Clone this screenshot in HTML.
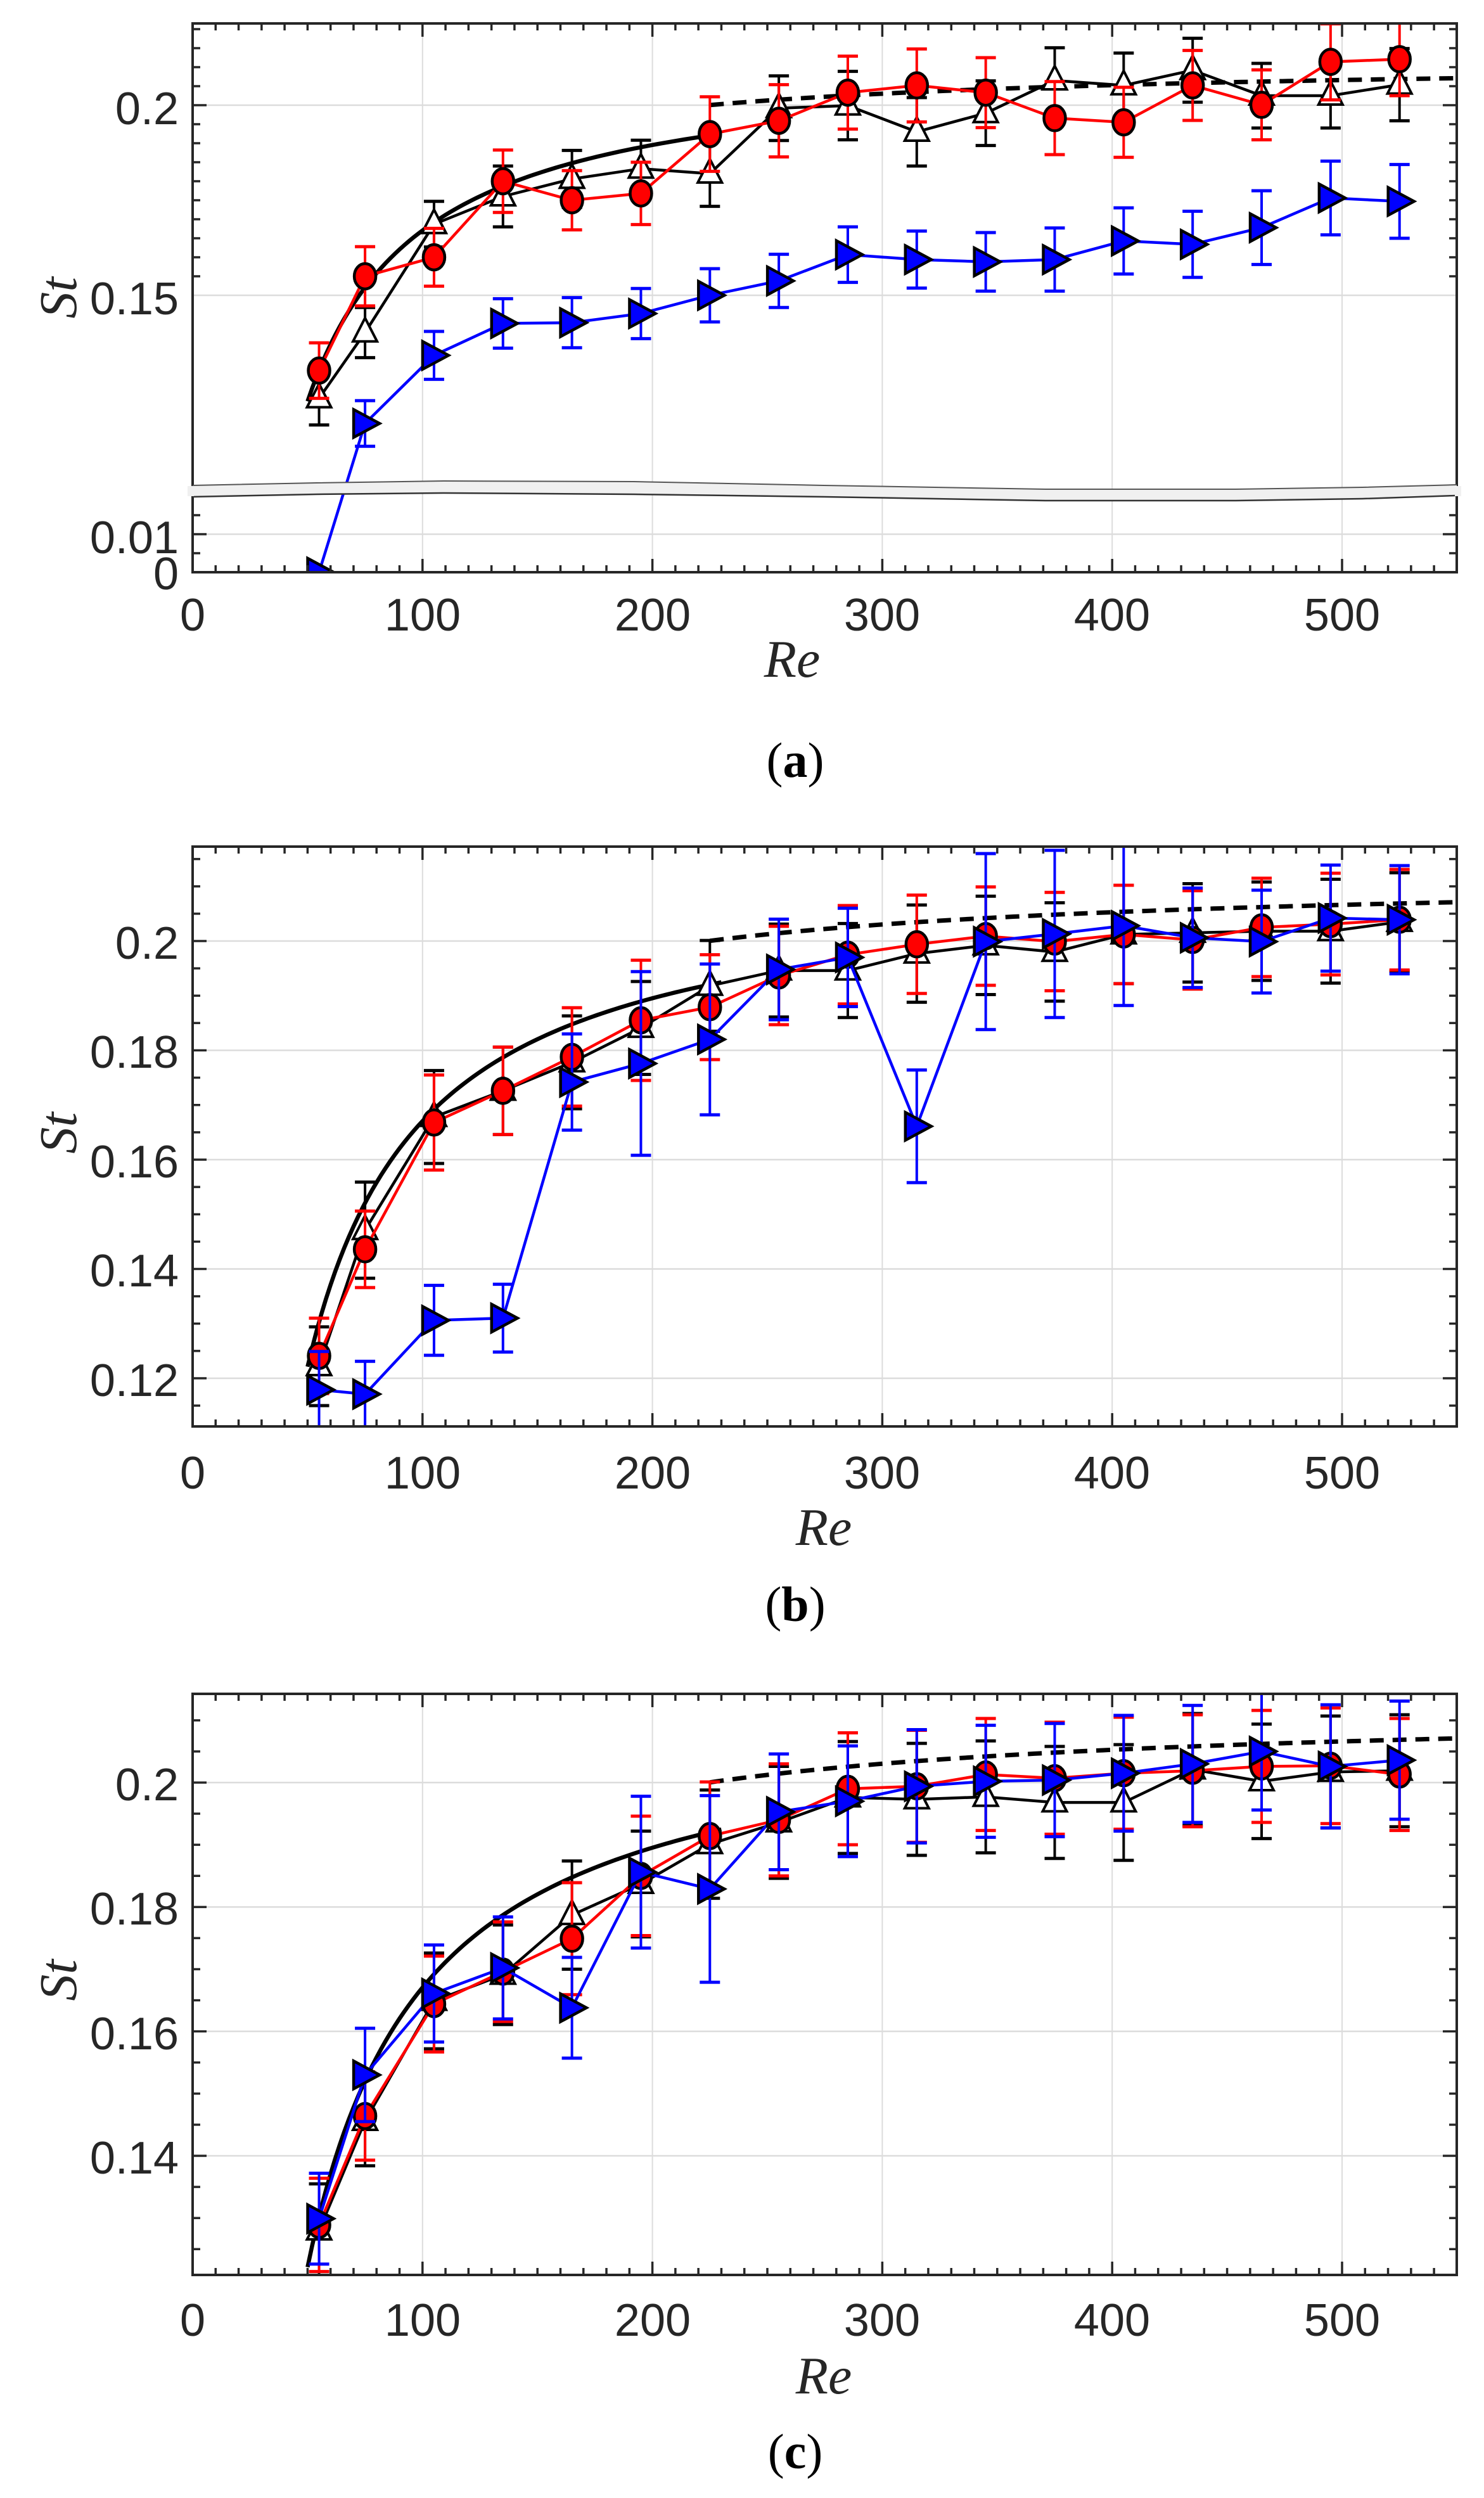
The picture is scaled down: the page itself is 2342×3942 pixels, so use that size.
<!DOCTYPE html>
<html><head><meta charset="utf-8">
<style>
html,body{margin:0;padding:0;background:#fff;}
svg{display:block;}
.tl{font-family:"Liberation Sans",sans-serif;font-size:72px;fill:#262626;}
.ax{font-family:"Liberation Serif",serif;font-style:italic;font-size:84px;fill:#262626;}
.cap{font-family:"Liberation Serif",serif;font-size:78px;fill:#000;}
</style></head>
<body>
<svg id="s" xmlns="http://www.w3.org/2000/svg" width="2342" height="3942" viewBox="0 0 2342 3942">
<defs>
<clipPath id="ca"><rect x="304" y="37" width="1995" height="866"/></clipPath>
<clipPath id="cb"><rect x="304" y="1336" width="1996" height="915"/></clipPath>
<clipPath id="cc"><rect x="304" y="2673" width="1996" height="917"/></clipPath>
</defs>
<g id="grid"></g>
<g id="data"></g>
<g id="frames"></g>
<!-- Panel a labels -->
<text class="tl" x="282" y="196" text-anchor="end">0.2</text>
<text class="tl" x="282" y="496" text-anchor="end">0.15</text>
<text class="tl" x="282" y="873" text-anchor="end">0.01</text>
<text class="tl" x="282" y="930" text-anchor="end">0</text>
<g class="tl" text-anchor="middle">
<text x="304" y="995">0</text><text x="667" y="995">100</text><text x="1030" y="995">200</text><text x="1392" y="995">300</text><text x="1755" y="995">400</text><text x="2118" y="995">500</text>
</g>
<text class="ax" x="1250" y="1068" text-anchor="middle">Re</text>
<text class="ax" x="0" y="0" text-anchor="middle" transform="translate(120,470) rotate(-90)">St</text>
<text class="cap" x="1255" y="1226" text-anchor="middle">(<tspan font-weight="bold">a</tspan>)</text>
<!-- Panel b labels -->
<text class="tl" x="282" y="1513" text-anchor="end">0.2</text>
<text class="tl" x="282" y="1685" text-anchor="end">0.18</text>
<text class="tl" x="282" y="1858" text-anchor="end">0.16</text>
<text class="tl" x="282" y="2030" text-anchor="end">0.14</text>
<text class="tl" x="282" y="2203" text-anchor="end">0.12</text>
<g class="tl" text-anchor="middle">
<text x="304" y="2349">0</text><text x="667" y="2349">100</text><text x="1030" y="2349">200</text><text x="1392" y="2349">300</text><text x="1755" y="2349">400</text><text x="2118" y="2349">500</text>
</g>
<text class="ax" x="1300" y="2438" text-anchor="middle">Re</text>
<text class="ax" x="0" y="0" text-anchor="middle" transform="translate(120,1788) rotate(-90)">St</text>
<text class="cap" x="1255" y="2558" text-anchor="middle">(<tspan font-weight="bold">b</tspan>)</text>
<!-- Panel c labels -->
<text class="tl" x="282" y="2841" text-anchor="end">0.2</text>
<text class="tl" x="282" y="3037" text-anchor="end">0.18</text>
<text class="tl" x="282" y="3234" text-anchor="end">0.16</text>
<text class="tl" x="282" y="3430" text-anchor="end">0.14</text>
<g class="tl" text-anchor="middle">
<text x="304" y="3686">0</text><text x="667" y="3686">100</text><text x="1030" y="3686">200</text><text x="1392" y="3686">300</text><text x="1755" y="3686">400</text><text x="2118" y="3686">500</text>
</g>
<text class="ax" x="1300" y="3777" text-anchor="middle">Re</text>
<text class="ax" x="0" y="0" text-anchor="middle" transform="translate(120,3125) rotate(-90)">St</text>
<text class="cap" x="1255" y="3895" text-anchor="middle">(<tspan font-weight="bold">c</tspan>)</text>
</svg>
<script>
(function(){
var NS="http://www.w3.org/2000/svg";
function el(parent,tag,attrs){var e=document.createElementNS(NS,tag);for(var k in attrs)e.setAttribute(k,attrs[k]);parent.appendChild(e);return e;}
var G=document.getElementById('grid'),D=document.getElementById('data'),F=document.getElementById('frames');
var X0=304,XS=3.628;
function px(r){return X0+r*XS;}
var RE=[55,75,105,135,165,195,225,255,285,315,345,375,405,435,465,495,525];
var L=304,R=2299;

function roshko(r){return 0.212*(1-21.2/r);}
function dashed(r){return 0.212*(1-12.7/r);}

function panel(o){
  var g=el(D,'g',{'clip-path':'url(#'+o.clip+')'});
  [100,200,300,400,500].forEach(function(r){el(G,'line',{x1:px(r),x2:px(r),y1:o.top,y2:o.bot,stroke:'#dcdcdc','stroke-width':2});});
  o.hgrid.forEach(function(y){el(G,'line',{x1:L,x2:R,y1:y,y2:y,stroke:'#dcdcdc','stroke-width':2.5});});
  var p=[];for(var r=50;r<=230;r+=2)p.push(px(r)+','+o.ym(roshko(r)));
  el(g,'polyline',{points:p.join(' '),fill:'none',stroke:'#000','stroke-width':6.5});
  p=[];for(var r=225;r<=552;r+=3)p.push(px(r)+','+o.ym(dashed(r)));
  el(g,'polyline',{points:p.join(' '),fill:'none',stroke:'#000','stroke-width':7,'stroke-dasharray':'22 14'});
  o.series.forEach(function(s){
    var pts=[];
    s.v.forEach(function(v,i){var x=px(RE[i]);var y=(s.ymap||o.ym)(v,i);pts.push(x+','+y);});
    el(g,'polyline',{points:pts.join(' '),fill:'none',stroke:s.c,'stroke-width':4.5});
    s.v.forEach(function(v,i){
      var e=s.e[i];if(!e)return;var x=px(RE[i]);var y1=o.ym(v+e),y2=o.ym(v-e);
      el(g,'line',{x1:x,x2:x,y1:y1,y2:y2,stroke:s.c,'stroke-width':4});
      el(g,'line',{x1:x-16,x2:x+16,y1:y1,y2:y1,stroke:s.c,'stroke-width':5});
      el(g,'line',{x1:x-16,x2:x+16,y1:y2,y2:y2,stroke:s.c,'stroke-width':5});
    });
    s.v.forEach(function(v,i){
      var x=px(RE[i]);var y=(s.ymap||o.ym)(v,i);
      if(s.m==='o')el(g,'ellipse',{cx:x,cy:y,rx:17,ry:20,fill:'#ff0000',stroke:'#000','stroke-width':4.5});
      else if(s.m==='^')el(g,'polygon',{points:(x)+','+(y-23)+' '+(x+19)+','+(y+14)+' '+(x-19)+','+(y+14),fill:'#fff',stroke:'#000','stroke-width':4});
      else el(g,'polygon',{points:(x-18)+','+(y-22)+' '+(x+23)+','+(y)+' '+(x-18)+','+(y+22),fill:'#0000ff',stroke:'#000','stroke-width':4.5});
    });
  });
  el(F,'rect',{x:L,y:o.top,width:R-L,height:o.bot-o.top,fill:'none',stroke:'#262626','stroke-width':4});
  for(var r=10;r<550;r+=10){var maj=(r%100===0);var len=maj?21:11;
    el(F,'line',{x1:px(r),x2:px(r),y1:o.bot,y2:o.bot-len,stroke:'#262626','stroke-width':3.5});
    el(F,'line',{x1:px(r),x2:px(r),y1:o.top,y2:o.top+len,stroke:'#262626','stroke-width':3.5});}
  o.yt.forEach(function(t){var len=t[1]?22:12;
    el(F,'line',{x1:L,x2:L+len,y1:t[0],y2:t[0],stroke:'#262626','stroke-width':3.5});
    el(F,'line',{x1:R,x2:R-len,y1:t[0],y2:t[0],stroke:'#262626','stroke-width':3.5});});
}

var yaU=function(v){return 166+(0.2-v)*6000;};
var ytA=[];for(var k=0;k<=13;k++){var v=0.22-k*0.005;var y=yaU(v);if(y>40&&y<765)ytA.push([y,Math.abs(v-0.2)<1e-6||Math.abs(v-0.15)<1e-6]);}
ytA.push([813,false],[843,true],[873,false]);
panel({clip:'ca',top:37,bot:903,ym:yaU,hgrid:[166,466,843],yt:ytA,series:[
 {c:'#000',m:'^',v:[0.1229,0.1402,0.1687,0.176,0.1806,0.1833,0.182,0.1992,0.1999,0.193,0.1979,0.2065,0.2052,0.2092,0.2025,0.2025,0.2054],
  e:[0.007,0.0066,0.006,0.008,0.0075,0.0075,0.0086,0.0085,0.009,0.009,0.0085,0.0086,0.0085,0.0084,0.0085,0.0085,0.0095]},
 {c:'#ff0000',m:'o',v:[0.1302,0.155,0.160,0.180,0.175,0.1768,0.1924,0.1959,0.2033,0.2052,0.2033,0.1966,0.1955,0.2052,0.2001,0.2114,0.2121],
  e:[0.0073,0.0078,0.0076,0.0082,0.0078,0.0082,0.0098,0.0095,0.0096,0.0096,0.0092,0.0096,0.0092,0.0092,0.0092,0.01,0.0096]},
 {c:'#0000ff',m:'>',v:[0,0.1163,0.1342,0.1426,0.1428,0.1452,0.15,0.1538,0.1607,0.1594,0.1588,0.1594,0.1643,0.1634,0.1678,0.1756,0.1747],
  e:[0,0.006,0.0063,0.0065,0.0066,0.0066,0.007,0.007,0.0073,0.0075,0.0077,0.0083,0.0087,0.0087,0.0097,0.0097,0.0097],
  ymap:function(v,i){return i===0?903:yaU(v);}}
]});
var bandTop=[[304,766],[500,762],[700,759],[1000,760],[1300,766],[1650,772],[1950,772],[2150,769],[2299,765]];
var bandBot=[[304,784],[500,780],[700,778],[1000,780],[1300,784],[1650,790],[1950,790],[2150,787],[2299,782]];
function pstr(a){return a.map(function(p){return p[0]+','+p[1];}).join(' ');}
el(F,'polygon',{points:pstr(bandTop)+' '+pstr(bandBot.slice().reverse()),fill:'#f0f0f0',stroke:'none'});
el(F,'polyline',{points:pstr(bandTop),fill:'none',stroke:'#555','stroke-width':2});
el(F,'polyline',{points:pstr(bandBot),fill:'none',stroke:'#333','stroke-width':2.5});
el(F,'rect',{x:296,y:767,width:10,height:16,fill:'#f0f0f0'});
el(F,'rect',{x:2296,y:767,width:10,height:16,fill:'#f0f0f0'});

var yb=function(v){return 1485+(0.2-v)*8625;};
var ytB=[];for(var v=0.215;v>0.11;v-=0.005){var y=yb(v);if(y>1340&&y<2248)ytB.push([y,Math.abs((v*1000)%20)<0.5||Math.abs((v*1000)%20-20)<0.5]);}
panel({clip:'cb',top:1336,bot:2251,ym:yb,hgrid:[yb(0.2),yb(0.18),yb(0.16),yb(0.14),yb(0.12)],yt:ytB,series:[
 {c:'#000',m:'^',v:[0.1222,0.1471,0.1678,0.1726,0.1778,0.1841,0.1918,0.1946,0.1946,0.1977,0.1992,0.198,0.2012,0.2015,0.2018,0.2018,0.2035],
  e:[0.0072,0.0088,0.0085,0.008,0.0085,0.0085,0.0083,0.0085,0.0086,0.0089,0.009,0.009,0.009,0.009,0.009,0.0095,0.009]},
 {c:'#ff0000',m:'o',v:[0.1241,0.1436,0.1668,0.1726,0.1788,0.1855,0.1879,0.1937,0.1975,0.1994,0.2009,0.1999,0.2012,0.2002,0.2025,0.2031,0.2039],
  e:[0.0069,0.007,0.0087,0.008,0.009,0.011,0.0096,0.009,0.009,0.009,0.009,0.009,0.009,0.009,0.009,0.0093,0.0092]},
 {c:'#0000ff',m:'>',v:[0.1179,0.1171,0.1306,0.131,0.1742,0.1776,0.182,0.1948,0.197,0.1661,0.1999,0.2013,0.2028,0.2006,0.1999,0.2042,0.2039],
  e:[0.007,0.006,0.0064,0.0062,0.0088,0.0168,0.0138,0.0092,0.009,0.0103,0.0161,0.0153,0.0146,0.0091,0.0094,0.0097,0.0099]}
]});

var yc=function(v){return 2813+(0.2-v)*9817;};
var ytC=[];for(var v=0.215;v>0.11;v-=0.005){var y=yc(v);if(y>2677&&y<3587)ytC.push([y,Math.abs((v*1000)%20)<0.5||Math.abs((v*1000)%20-20)<0.5]);}
panel({clip:'cc',top:2673,bot:3590,ym:yc,hgrid:[yc(0.2),yc(0.18),yc(0.16),yc(0.14)],yt:ytC,series:[
 {c:'#000',m:'^',v:[0.128,0.1456,0.1649,0.1691,0.1787,0.1837,0.1901,0.1936,0.1976,0.1973,0.1977,0.1968,0.1968,0.2021,0.2002,0.2017,0.2019],
  e:[0.0075,0.0072,0.0077,0.008,0.0087,0.0085,0.0087,0.009,0.009,0.009,0.009,0.009,0.0093,0.009,0.0092,0.009,0.009]},
 {c:'#ff0000',m:'o',v:[0.1289,0.1464,0.1644,0.1696,0.1749,0.185,0.1914,0.194,0.199,0.1994,0.2013,0.2007,0.2015,0.2019,0.2026,0.2027,0.2013],
  e:[0.0075,0.0071,0.0077,0.008,0.009,0.0096,0.0087,0.009,0.009,0.009,0.009,0.009,0.009,0.009,0.009,0.0093,0.009]},
 {c:'#0000ff',m:'>',v:[0.1299,0.153,0.1661,0.1702,0.1638,0.1856,0.1829,0.1953,0.197,0.1994,0.2002,0.2004,0.2015,0.203,0.205,0.2026,0.2036],
  e:[0.0073,0.0075,0.0078,0.0082,0.0081,0.0122,0.015,0.0093,0.0089,0.0091,0.009,0.0091,0.0093,0.0094,0.0094,0.0099,0.0095]}
]});
})();
</script>
</body></html>
